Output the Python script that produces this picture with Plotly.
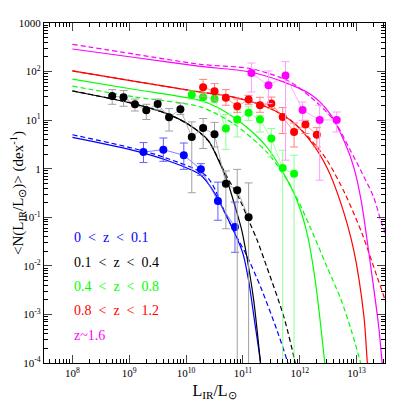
import plotly.graph_objects as go

# ---- data points ----
bin_labels = ["0&nbsp;&nbsp;&lt;&nbsp;&nbsp;z&nbsp;&nbsp;&lt;&nbsp;&nbsp;0.1",
              "0.1&nbsp;&nbsp;&lt;&nbsp;&nbsp;z&nbsp;&nbsp;&lt;&nbsp;&nbsp;0.4",
              "0.4&nbsp;&nbsp;&lt;&nbsp;&nbsp;z&nbsp;&nbsp;&lt;&nbsp;&nbsp;0.8",
              "0.8&nbsp;&nbsp;&lt;&nbsp;&nbsp;z&nbsp;&nbsp;&lt;&nbsp;&nbsp;1.2",
              "z~1.6"]

blue_x = [10**9.25, 10**9.6, 10**9.96, 10**10.26, 10**10.56, 10**10.86]
blue_y = [2.2, 2.47, 1.89, 0.97, 0.216, 0.063]
blue_hi = [3.45, 4.29, 3.38, 1.27, 0.53, 0.206]
blue_lo = [1.34, 1.42, 0.97, 0.73, 0.087, 0.019]

black_x = [10**8.7, 10**8.9, 10**9.1, 10**9.3, 10**9.5, 10**9.7, 10**9.9, 10**10.1,
           10**10.3, 10**10.5, 10**10.7, 10**10.9, 10**11.1]
black_y = [31.4, 29.5, 21.2, 16.0, 21.5, 11.5, 16.7, 4.5, 6.9, 5.1, 0.49, 0.36, 0.10]
black_hi = [42.5, 40.6, 27.2, 21.2, 27.2, 17.3, 22.5, 9.2, 10.8, 9.0, 0.9, 0.97, 0.51]
black_lo = [21.2, 19.3, 15.4, 10.3, 16.2, 5.97, 13.0, 0.32, 2.6, 2.8, 0.058, 1e-6, 1e-6]

green_x = [10**10.1, 10**10.3, 10**10.5, 10**10.7, 10**10.9, 10**11.1, 10**11.3,
           10**11.5, 10**11.7, 10**11.9]
green_y = [33.2, 29.5, 27.7, 6.7, 10.3, 14.2, 10.3, 4.17, 1.03, 0.79]
green_hi = [40, 36, 33, 13, 16, 19.3, 12.6, 6.7, 2.4, 1.89]
green_lo = [27, 24, 23, 2.5, 4.5, 9.9, 5.7, 1.74, 1e-6, 1e-6]

red_x = [10**10.3, 10**10.5, 10**10.7, 10**10.9, 10**11.1, 10**11.3, 10**11.5,
         10**11.7, 10**11.9, 10**12.1, 10**12.3]
red_y = [47.4, 39.3, 28.8, 19.3, 26.5, 20.2, 21.9, 11.6, 5.7, 8.1, 5.03]
red_hi = [69, 56.5, 42.5, 27.2, 32.4, 29.5, 29.9, 18.1, 8.7, 9.9, 7.0]
red_lo = [31, 25.6, 20.2, 14.5, 21.2, 14.5, 17.3, 5.3, 2.8, 5.3, 2.8]

mag_x = [10**11.15, 10**11.45, 10**11.75, 10**12.05, 10**12.35, 10**12.65]
mag_y = [93.5, 52, 82.6, 16.2, 10.1, 10.1]
mag_hi = [150, 103, 160, 23.6, 20.2, 14.7]
mag_lo = [38, 21.9, 1.5, 9.9, 0.58, 5.7]

# ---- model curves, log10(L) and N ----
blue_solid_lx = [8.0, 9.07, 9.66, 10.25, 10.51, 10.69, 10.83, 11.0, 11.1, 11.2, 11.31, 11.4]
blue_solid_y = [4.4, 2.39, 1.49, 0.75, 0.307, 0.119, 0.055, 0.018, 0.005, 8e-4, 1e-4, 1e-5]
blue_dash_lx = [8.0, 9.07, 9.66, 10.36, 10.72, 10.92, 11.06, 11.31, 11.6, 11.79, 11.9]
blue_dash_y = [5.0, 2.63, 1.64, 0.7, 0.10, 0.034, 0.017, 0.0037, 4.7e-4, 1e-4, 3e-5]

black_solid_lx = [8.0, 9.07, 9.66, 10.07, 10.39, 10.57, 10.72, 10.865, 10.98, 11.07, 11.19, 11.31, 11.4]
black_solid_y = [39.8, 21.9, 13.6, 7.8, 3.85, 1.49, 0.58, 0.163, 0.054, 0.0152, 0.00195, 1e-4, 1e-5]
black_dash_lx = [8.0, 9.07, 9.66, 10.07, 10.4, 10.7, 10.95, 11.1, 11.25, 11.42, 11.72, 11.92, 12.0]
black_dash_y = [40, 22, 13.6, 7.8, 3.6, 0.75, 0.224, 0.087, 0.034, 0.0095, 8.9e-4, 1e-4, 3e-5]

green_solid_lx = [8.0, 9.1, 10.25, 10.54, 10.83, 11.13, 11.42, 11.72, 11.95, 12.13, 12.28, 12.44, 12.5]
green_solid_y = [70, 42.8, 25.6, 18.7, 11.6, 6.2, 2.8, 0.79, 0.224, 0.046, 0.0043, 1e-4, 2e-5]
green_dash_lx = [8.0, 9.1, 10.25, 10.83, 11.42, 11.78, 11.95, 12.19, 12.48, 12.72, 12.9, 13.07, 13.15]
green_dash_y = [50, 30, 18.7, 8.5, 2.2, 0.58, 0.25, 0.06, 0.0095, 0.0021, 5e-4, 1e-4, 4e-5]

red_solid_lx = [8.0, 9.1, 10.25, 10.83, 11.42, 11.84, 12.19, 12.48, 12.72, 12.95, 13.13, 13.19, 13.25]
red_solid_y = [103, 63, 37.9, 29.9, 18.7, 9.9, 3.7, 1.05, 0.2, 0.021, 8.9e-4, 1e-4, 2e-5]
red_dash_lx = [8.0, 9.1, 10.25, 10.83, 11.42, 11.84, 12.19, 12.48, 12.8, 13.1, 13.36, 13.5, 13.6]
red_dash_y = [103, 63, 37.9, 29.9, 18.7, 9.9, 4.0, 1.5, 0.3, 0.045, 0.006, 0.002, 8e-4]

mag_solid_lx = [8.0, 9.1, 10.25, 11.13, 11.7, 12.19, 12.54, 12.8, 12.95, 13.08, 13.25, 13.39, 13.45, 13.5]
mag_solid_y = [292, 195, 128, 98, 62, 34, 13.2, 3.3, 1.08, 0.224, 0.0095, 5.5e-4, 1e-4, 3e-5]
mag_dash_lx = [8.0, 9.1, 10.25, 11.13, 11.78, 12.19, 12.6, 12.89, 13.1, 13.3, 13.42, 13.51, 13.6]
mag_dash_y = [364, 228, 141, 115, 66, 30, 9.9, 2.4, 0.8, 0.26, 0.09, 0.045, 0.02]

# label positions (log10 of N, annotations on log axes take log values)
label_logy = [-1.412, -1.927, -2.421, -2.915, -3.43]

BLUE, BLACK, GREEN, RED, MAG = "#0000ff", "#000000", "#00ff00", "#ff0000", "#ff00ff"
LBLUE, LBLACK, LGREEN, LRED, LMAG = "#6060ff", "#a0a0a0", "#90ff90", "#ff8080", "#ff9cff"

fig = go.Figure()

# model curves first (behind points)
curves = [
    (blue_solid_lx, blue_solid_y, BLUE, "solid"), (blue_dash_lx, blue_dash_y, BLUE, "dash"),
    (black_solid_lx, black_solid_y, BLACK, "solid"), (black_dash_lx, black_dash_y, BLACK, "dash"),
    (green_solid_lx, green_solid_y, GREEN, "solid"), (green_dash_lx, green_dash_y, GREEN, "dash"),
    (red_solid_lx, red_solid_y, RED, "solid"), (red_dash_lx, red_dash_y, RED, "dash"),
    (mag_solid_lx, mag_solid_y, MAG, "solid"), (mag_dash_lx, mag_dash_y, MAG, "dash"),
]
for lx, y, col, dash in curves:
    fig.add_trace(go.Scatter(
        x=[10**v for v in lx], y=y, mode="lines",
        line=dict(color=col, width=1.2, dash="5px,3px" if dash == "dash" else "solid", shape="spline", smoothing=0.8),
        showlegend=False, hoverinfo="skip"))

series = [
    (blue_x, blue_y, blue_hi, blue_lo, BLUE, LBLUE),
    (black_x, black_y, black_hi, black_lo, BLACK, LBLACK),
    (green_x, green_y, green_hi, green_lo, GREEN, LGREEN),
    (red_x, red_y, red_hi, red_lo, RED, LRED),
    (mag_x, mag_y, mag_hi, mag_lo, MAG, LMAG),
]
for x, y, hi, lo, col, lcol in series:
    fig.add_trace(go.Scatter(
        x=x, y=y, mode="lines+markers",
        line=dict(color=lcol, width=0.8),
        marker=dict(color=col, size=8, line=dict(width=0)),
        error_y=dict(type="data", symmetric=False,
                     array=[h - v for h, v in zip(hi, y)],
                     arrayminus=[v - l for v, l in zip(y, lo)],
                     color=lcol, thickness=1, width=4),
        showlegend=False))

# redshift labels
label_col = [BLUE, BLACK, GREEN, RED, MAG]
for txt, ly, col in zip(bin_labels, label_logy, label_col):
    fig.add_annotation(x=8, y=ly, xref="x", yref="y", text=txt, showarrow=False,
                       xanchor="left", yanchor="middle",
                       font=dict(family="Liberation Serif", size=14, color=col))

minor_x = [k * 10**n for n in range(7, 14) for k in range(2, 10)]
minor_y = [k * 10**n for n in range(-4, 3) for k in range(2, 10)]

axis_common = dict(type="log", showgrid=False, zeroline=False, ticks="inside", ticklen=8,
                   tickwidth=1, linecolor="black", linewidth=1.2, mirror="allticks",
                   tickfont=dict(family="Liberation Serif", size=11, color="black"),
                   showline=True, automargin=False)

fig.update_xaxes(
    range=[7.5, 13.5], tickmode="array",
    tickvals=[1e8, 1e9, 1e10, 1e11, 1e12, 1e13],
    ticktext=["10<sup>8</sup>", "10<sup>9</sup>", "10<sup>10</sup>", "10<sup>11</sup>",
              "10<sup>12</sup>", "10<sup>13</sup>"],
    minor=dict(tickvals=minor_x, ticks="inside", ticklen=4, tickcolor="black"),
    title=dict(text="L<sub>IR</sub>/L<sub>⊙</sub>", font=dict(family="Liberation Serif", size=16, color="black"),
               standoff=6),
    **axis_common)
fig.update_yaxes(
    range=[-4, 3], tickmode="array",
    tickvals=[1e-4, 1e-3, 1e-2, 1e-1, 1, 10, 100, 1000],
    ticktext=["10<sup>-4</sup>", "10<sup>-3</sup>", "10<sup>-2</sup>", "10<sup>-1</sup>", "1",
              "10<sup>1</sup>", "10<sup>2</sup>", "1000"],
    minor=dict(tickvals=minor_y, ticks="inside", ticklen=4, tickcolor="black"),
    title=dict(text="&lt;N(L<sub>IR</sub>/L<sub>⊙</sub>)&gt; (dex<sup>-1</sup>)",
               font=dict(family="Liberation Serif", size=15, color="black"), standoff=4),
    **axis_common)

# the page body adds an 8px margin, so the figure is a bit smaller than the window
fig.update_layout(
    width=399, height=399,
    margin=dict(l=36, r=22, t=15, b=44),
    plot_bgcolor="white", paper_bgcolor="white",
    showlegend=False,
)

fig.write_html("out.html")
